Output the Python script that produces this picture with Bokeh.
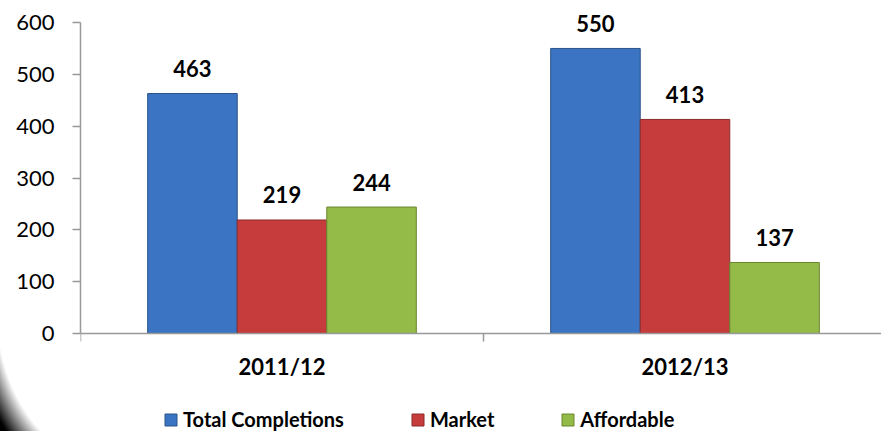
from bokeh.plotting import figure
from bokeh.models import (Range1d, FixedTicker, Legend, LegendItem,
                          ColumnDataSource, LabelSet)
from bokeh.core.properties import value
from bokeh.embed import file_html
from bokeh.resources import INLINE

# ---- data ----
periods = ["2011/12", "2012/13"]
series = ["Total Completions", "Market", "Affordable"]
total_completions = [463, 550]
market = [219, 413]
affordable = [244, 137]
y_ticks = [0, 100, 200, 300, 400, 500, 600]

fills = ["#3A74C3", "#C63B3B", "#94BA47"]
edges = ["#2A5288", "#8C2B2B", "#6B8631"]

FONT = "Lato"

p = figure(width=881, height=431, output_backend="svg", toolbar_location=None,
           x_range=Range1d(0, 801 / 403), y_range=Range1d(-189.1, 642.5),
           min_border_left=80, min_border_right=0, min_border_top=0,
           min_border_bottom=0)
p.border_fill_color = None
p.background_fill_color = "white"
p.outline_line_color = None
p.grid.visible = False
p.styles = {"background": "radial-gradient(ellipse 110px 150px at 110px -3px, #ffffff 103%, #000000 125%) left bottom / 80px 120px no-repeat, #ffffff"}

width = 0.2222
values = [total_completions, market, affordable]
renderers = []
label_x, label_y, label_t = [], [], []
for k, (name, vals) in enumerate(zip(series, values)):
    xs = [i + 0.5 + (k - 1) * width for i in range(len(periods))]
    src = ColumnDataSource(dict(x=xs, top=vals))
    r = p.vbar(x="x", top="top", width=width, bottom=0, source=src,
               fill_color=fills[k], line_color=edges[k], line_width=1)
    renderers.append(r)
    label_x += xs
    label_y += vals
    label_t += [str(v) for v in vals]

lsrc = ColumnDataSource(dict(x=label_x, y=label_y, t=label_t))
p.add_layout(LabelSet(x="x", y="y", text="t", source=lsrc, y_offset=25,
                      text_align="center", text_baseline="middle",
                      text_font=value(FONT), text_font_style="bold",
                      text_font_size="22px", text_color="#000000"))

# x axis (drawn at y = 0 inside the frame)
xa = p.xaxis[0]
xa.fixed_location = 0
xa.ticker = FixedTicker(ticks=[0.5, 1.5], minor_ticks=[0, 1, 2])
xa.major_label_overrides = {0.5: periods[0], 1.5: periods[1]}
xa.major_tick_out = 0
xa.major_tick_in = 0
xa.minor_tick_out = 8
xa.minor_tick_in = 0
xa.minor_tick_line_color = "#999999"
xa.axis_line_color = "#999999"
xa.axis_line_width = 1.5
xa.minor_tick_line_width = 1.5
xa.major_label_standoff = 12
xa.major_label_text_font = FONT
xa.major_label_text_font_style = "bold"
xa.major_label_text_font_size = "22px"
xa.major_label_text_color = "#000000"

# y axis
ya = p.yaxis[0]
ya.ticker = FixedTicker(ticks=y_ticks)
ya.bounds = (0, 600)
ya.major_tick_out = 8
ya.major_tick_in = 0
ya.minor_tick_out = 0
ya.minor_tick_in = 0
ya.major_tick_line_color = "#999999"
ya.major_tick_line_width = 1.5
ya.axis_line_color = "#999999"
ya.axis_line_width = 1.5
ya.major_label_standoff = 18
ya.major_label_text_font = FONT
ya.major_label_text_font_size = "22px"
ya.major_label_text_color = "#000000"

legend = Legend(items=[LegendItem(label=s, renderers=[r]) for s, r in zip(series, renderers)],
                orientation="horizontal", location=(83, 0))
legend.glyph_width = 15
legend.glyph_height = 15
legend.label_standoff = 5
legend.spacing = 66
legend.padding = 0
legend.margin = 0
legend.border_line_color = None
legend.background_fill_alpha = 0
legend.label_text_font = FONT
legend.label_text_font_style = "bold"
legend.label_text_font_size = "20px"
legend.label_text_color = "#000000"
p.add_layout(legend, "center")

open("out.html", "w").write(file_html(p, INLINE))
